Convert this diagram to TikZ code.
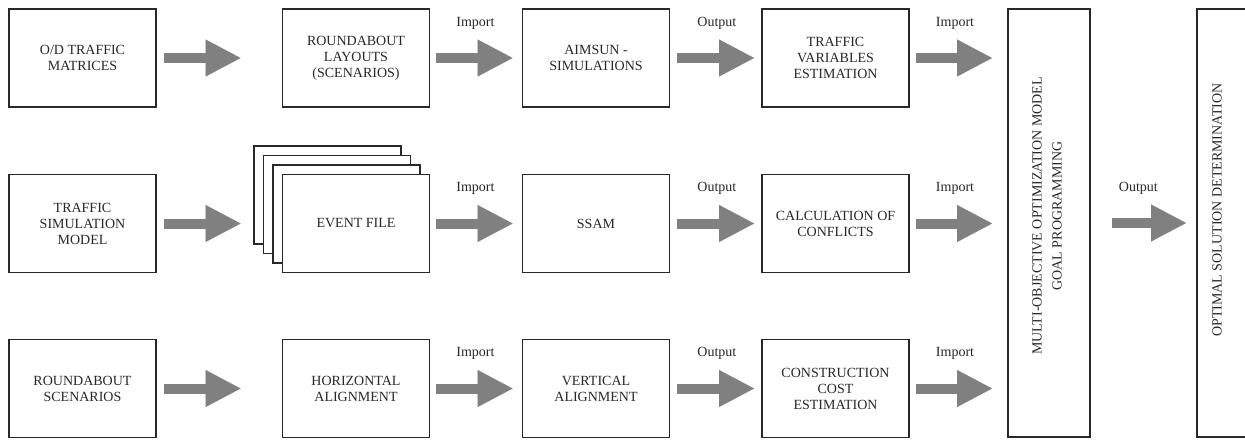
\documentclass[tikz,border=0pt]{standalone}
\usepackage{fontspec}
\setmainfont{Liberation Serif}
\usetikzlibrary{arrows.meta,calc}
\definecolor{arrowgray}{RGB}{128,128,128}
\definecolor{ink}{RGB}{40,40,40}
\begin{document}
\begin{tikzpicture}[x=0.75pt,y=-0.75pt,
  box/.style={draw=ink, line width=1.4pt, fill=white, inner sep=0pt, align=center,
    minimum width=110.25pt, minimum height=73.5pt,
    font=\fontsize{10.5}{12}\selectfont, text=ink},
  tallbox/.style={draw=ink, line width=1.4pt, fill=white, inner sep=0pt,
    minimum height=321pt},
  vtext/.style={rotate=90, align=center, inner sep=0pt, text=ink,
    font=\fontsize{10.5}{15}\selectfont},
  bigarrow/.style={draw=arrowgray, line width=7.5pt, line cap=butt,
    -{Triangle[length=26.25pt, width=27.75pt, line width=0.1pt]}},
  lbl/.style={text=ink, inner sep=0pt, font=\fontsize{10.5}{12}\selectfont},
  lblpos/.style={pos=0, anchor=west, xshift=11.25pt, yshift=26.25pt}
]
\useasboundingbox (0,0) rectangle (1245,439);
\clip (0,0) rectangle (1245,439);
\fill[white] (0,0) rectangle (1245,439);

% row 1
\node[box] (od)  at (82.5,58)  {O/D TRAFFIC\\MATRICES};
\node[box] (rl)  at (356,58)   {ROUNDABOUT\\LAYOUTS\\(SCENARIOS)};
\node[box] (aim) at (596,58)   {AIMSUN -\\SIMULATIONS};
\node[box] (tve) at (835.5,58) {TRAFFIC\\VARIABLES\\ESTIMATION};

% row 2
\node[box] (tsm) at (82.5,223.5) {TRAFFIC\\SIMULATION\\MODEL};
\node[box] (ev3) at (327.5,195) {};
\node[box] (ev2) at (337,204.5) {};
\node[box] (ev1) at (346.5,214) {};
\node[box] (ev)  at (356,223.5) {EVENT FILE};
\node[box] (ssam) at (596,223.5) {SSAM};
\node[box] (coc) at (835.5,223.5) {CALCULATION OF\\CONFLICTS};

% row 3
\node[box] (rs)  at (82.5,388.5) {ROUNDABOUT\\SCENARIOS};
\node[box] (ha)  at (356,388.5)  {HORIZONTAL\\ALIGNMENT};
\node[box] (va)  at (596,388.5)  {VERTICAL\\ALIGNMENT};
\node[box] (cce) at (835.5,388.5) {CONSTRUCTION\\COST\\ESTIMATION};

% tall boxes
\node[tallbox, minimum width=61.5pt] (mo) at (1049,223) {};
\node[vtext] (motxt) at (1047,216) {MULTI-OBJECTIVE OPTIMIZATION MODEL\\GOAL PROGRAMMING};
\node[tallbox, minimum width=45pt] (opt) at (1227,223) {};
\node[vtext] (opttxt) at (1217,210) {OPTIMAL SOLUTION DETERMINATION};

% row 1 arrows
\draw[bigarrow] ($(od.east)+(7,0)$) -- ($(rl.west)+(-41,0)$);
\draw[bigarrow] ($(rl.east)+(6,0)$) -- ($(aim.west)+(-9,0)$) node[lbl,lblpos] {Import};
\draw[bigarrow] ($(aim.east)+(7,0)$) -- ($(tve.west)+(-7,0)$) node[lbl,lblpos] {Output};
\draw[bigarrow] ($(tve.east)+(6,0)$) -- ($(mo.west |- tve.east)+(-15,0)$) node[lbl,lblpos] {Import};

% row 2 arrows
\draw[bigarrow] ($(tsm.east)+(7,0)$) -- ($(ev.west)+(-41,0)$);
\draw[bigarrow] ($(ev.east)+(6,0)$) -- ($(ssam.west)+(-9,0)$) node[lbl,lblpos] {Import};
\draw[bigarrow] ($(ssam.east)+(7,0)$) -- ($(coc.west)+(-7,0)$) node[lbl,lblpos] {Output};
\draw[bigarrow] ($(coc.east)+(6,0)$) -- ($(mo.west |- coc.east)+(-15,0)$) node[lbl,lblpos] {Import};

% row 3 arrows
\draw[bigarrow] ($(rs.east)+(7,0)$) -- ($(ha.west)+(-41,0)$);
\draw[bigarrow] ($(ha.east)+(6,0)$) -- ($(va.west)+(-9,0)$) node[lbl,lblpos] {Import};
\draw[bigarrow] ($(va.east)+(7,0)$) -- ($(cce.west)+(-7,0)$) node[lbl,lblpos] {Output};
\draw[bigarrow] ($(cce.east)+(6,0)$) -- ($(mo.west |- cce.east)+(-15,0)$) node[lbl,lblpos] {Import};

% output arrow
\draw[bigarrow] ($(mo.east |- opt.west)+(21,0)$) -- ($(opt.west)+(-10,0)$) node[lbl,pos=0,anchor=west,xshift=1.5pt,yshift=26.25pt] {Output};
\end{tikzpicture}
\end{document}
